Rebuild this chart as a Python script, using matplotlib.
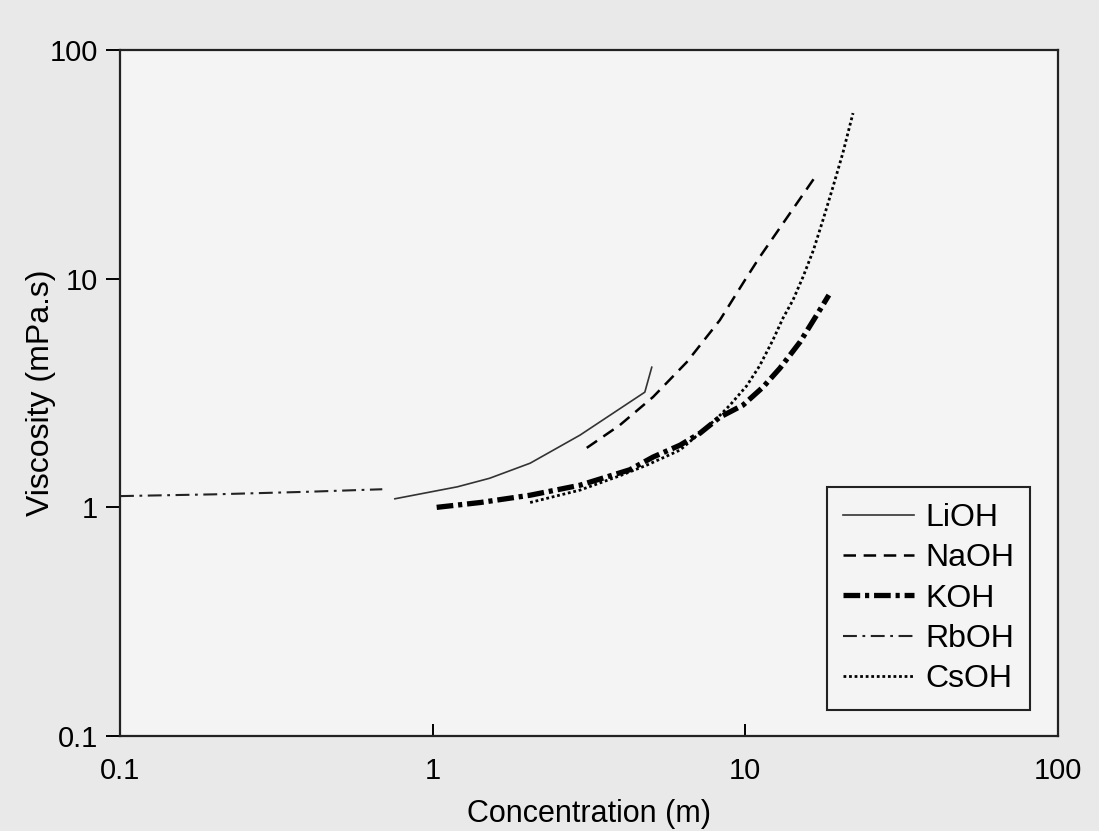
import matplotlib
matplotlib.use('Agg')
import matplotlib.pyplot as plt

# values (concentration in m, viscosity in mPa.s)
lioh_x = [0.757, 1.2, 1.52, 2.05, 2.96, 4.77, 5.02]
lioh_y = [1.09, 1.23, 1.34, 1.56, 2.07, 3.19, 4.10]

naoh_x = [3.11, 3.97, 5.07, 6.50, 8.29, 9.97, 11.1, 16.7]
naoh_y = [1.82, 2.29, 3.04, 4.32, 6.59, 9.86, 12.4, 27.8]

koh_x = [1.03, 1.42, 2.05, 2.96, 4.27, 5.07, 6.18, 7.16, 8.29, 9.83, 11.4, 12.9, 14.95, 17.3, 18.5]
koh_y = [1.0, 1.05, 1.13, 1.25, 1.46, 1.66, 1.87, 2.11, 2.48, 2.80, 3.36, 4.06, 5.28, 7.29, 8.48]

rboh_x = [0.1, 0.2, 0.4, 0.69]
rboh_y = [1.12, 1.14, 1.17, 1.20]

csoh_x = [2.05, 2.96, 4.0, 4.84, 6.18, 8.11, 8.93, 10.1, 11.1, 12.25, 13.2, 14.2,
          15.3, 16.5, 17.7, 19.05, 20.5, 22.1]
csoh_y = [1.05, 1.19, 1.38, 1.53, 1.78, 2.45, 2.80, 3.40, 4.15, 5.39, 6.73, 8.06,
          10.2, 13.3, 18.0, 25.1, 35.4, 53.0]

ticks = [0.1, 1, 10, 100]
tick_labels = ['0.1', '1', '10', '100']

plt.rcParams['font.family'] = ['Liberation Sans', 'DejaVu Sans']
plt.rcParams['lines.scale_dashes'] = False

fig = plt.figure(figsize=(10.99, 8.31), dpi=100, facecolor='#e9e9e9')
ax = fig.add_axes([0.1092, 0.1143, 0.8535, 0.8255], facecolor='#f4f4f4')

ax.plot(lioh_x, lioh_y, color='#333333', lw=1.2, ls='-', label='LiOH')
ax.plot(naoh_x, naoh_y, color='black', lw=1.8, ls=(0, (9, 5.5)), label='NaOH')
ax.plot(koh_x, koh_y, color='black', lw=3.8, ls=(0, (12, 3.5, 3, 3.5)), label='KOH')
ax.plot(rboh_x, rboh_y, color='#222222', lw=1.5, ls=(0, (10, 4, 2, 4)), label='RbOH')
ax.plot(csoh_x, csoh_y, color='black', lw=2.0, ls=(0, (2, 2)), label='CsOH')

ax.set_xscale('log')
ax.set_yscale('log')
ax.set_xlim(0.1, 100)
ax.set_ylim(0.1, 100)
ax.set_xticks(ticks)
ax.set_xticklabels(tick_labels)
ax.set_yticks(ticks)
ax.set_yticklabels(tick_labels)
ax.minorticks_off()

ax.tick_params(axis='x', direction='in', length=9, width=1.4, pad=15, labelsize=21)
ax.tick_params(axis='y', direction='out', length=10, width=1.4, pad=6, labelsize=21)
for sp in ax.spines.values():
    sp.set_linewidth(1.6)
    sp.set_color('#222222')

ax.set_xlabel('Concentration (m)', fontsize=22, labelpad=10)
ax.set_ylabel('Viscosity (mPa.s)', fontsize=23, labelpad=-5)

leg = ax.legend(loc='lower right', bbox_to_anchor=(0.970, 0.038), fontsize=23,
                handlelength=2.2, handletextpad=0.35, labelspacing=0.32,
                borderpad=0.5, borderaxespad=0, fancybox=False, framealpha=1,
                facecolor='#f4f4f4', edgecolor='#222222')
leg.get_frame().set_linewidth(1.5)

fig.savefig('out.png', dpi=100, facecolor=fig.get_facecolor())
